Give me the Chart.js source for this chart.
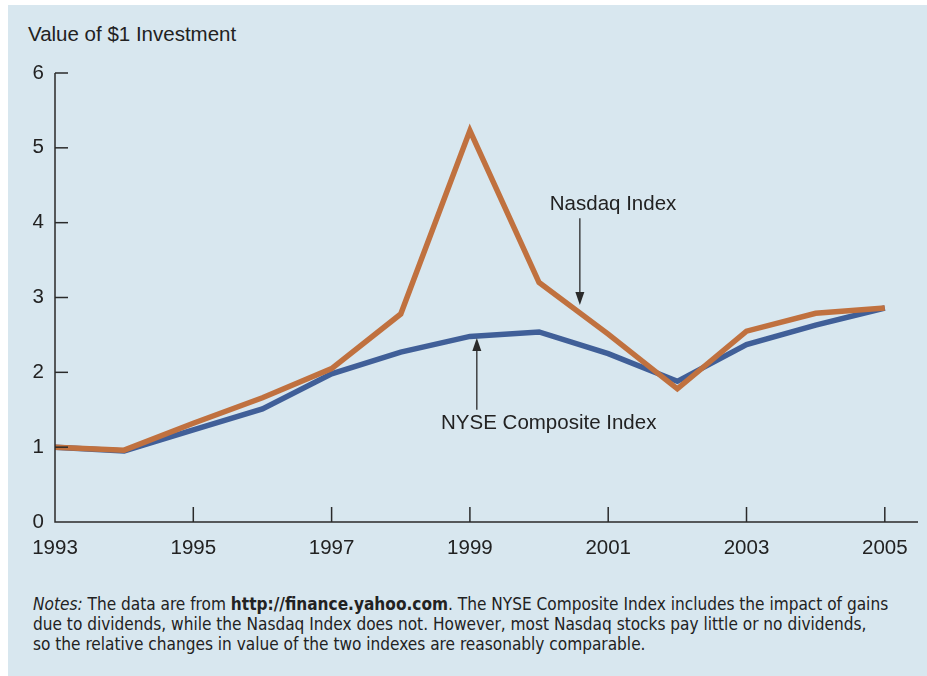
<!DOCTYPE html>
<html>
<head>
<meta charset="utf-8">
<script src="https://cdn.jsdelivr.net/npm/chart.js@4.4.1/dist/chart.umd.min.js"></script>
<style>
  html, body { margin: 0; padding: 0; background: #ffffff; }
  body { width: 927px; height: 676px; position: relative; overflow: hidden; font-family: 'Liberation Sans', Arial, sans-serif; }
  #panel { position: absolute; left: 8px; top: 5px; right: 0; bottom: 0; background: #d8e7ef; }
  #chart { position: absolute; left: 0; top: 0; }
  #yTitle { position: absolute; left: 28px; top: 22px; font-size: 20.5px; color: #222; }
  #notes { position: absolute; left: 33px; top: 594px; font-family: 'Liberation Sans Narrow', 'DejaVu Sans Condensed', sans-serif; font-size: 17.1px; line-height: 20px; color: #222; white-space: nowrap; }
  #notes b { font-weight: bold; }
</style>
</head>
<body>
<div id="panel"></div>
<div id="yTitle">Value of $1 Investment</div>
<canvas id="chart" width="927" height="560"></canvas>
<div id="notes"><i>Notes:</i> The data are from <b>http://finance.yahoo.com</b>. The NYSE Composite Index includes the impact of gains<br>due to dividends, while the Nasdaq Index does not. However, most Nasdaq stocks pay little or no dividends,<br>so the relative changes in value of the two indexes are reasonably comparable.</div>

<script>
// ================== DATA ==================
const years = [1993, 1994, 1995, 1996, 1997, 1998, 1999, 2000, 2001, 2002, 2003, 2004, 2005];
const nasdaq = [1.00, 0.96, 1.32, 1.66, 2.05, 2.78, 5.23, 3.20, 2.51, 1.78, 2.55, 2.79, 2.86];
const nyse = [1.00, 0.95, 1.23, 1.51, 1.98, 2.27, 2.48, 2.54, 2.25, 1.88, 2.37, 2.63, 2.86];
const xTickYears = [1993, 1995, 1997, 1999, 2001, 2003, 2005];
const yTicks = [0, 1, 2, 3, 4, 5, 6];

// annotation labels / arrows (data coordinates)
const nasdaqLabel = { text: 'Nasdaq Index', x: 2001.07, y: 4.25 };
const nasdaqArrow = { x: 2000.59, from: 4.06, to: 2.90 };
const nyseLabel = { text: 'NYSE Composite Index', x: 2000.14, y: 1.32 };
const nyseArrow = { x: 1999.10, from: 1.50, to: 2.46 };

const ORANGE = '#c0713f';
const BLUE = '#405f98';
const INK = '#2a2a2a';
const FONT = "'Liberation Sans', Arial, sans-serif";
const FONT_SIZE = 20.5;

function toPoints(vals) {
    return years.map((y, i) => ({ x: y, y: vals[i] }));
}

function drawArrow(ctx, x, y1, y2) {
    const dir = y2 > y1 ? 1 : -1;
    const head = 13;
    ctx.beginPath();
    ctx.moveTo(x, y1);
    ctx.lineTo(x, y2 - dir * head);
    ctx.stroke();
    ctx.beginPath();
    ctx.moveTo(x, y2);
    ctx.lineTo(x - 4.5, y2 - dir * head);
    ctx.lineTo(x + 4.5, y2 - dir * head);
    ctx.closePath();
    ctx.fill();
}

// axes, inward ticks and annotations
const decorPlugin = {
    id: 'decor',
    afterDraw(chart) {
        const { ctx, chartArea, scales: { x, y } } = chart;
        ctx.save();
        ctx.strokeStyle = INK;
        ctx.fillStyle = INK;
        ctx.lineWidth = 1.5;
        // axis lines
        ctx.beginPath();
        ctx.moveTo(chartArea.left, chartArea.top);
        ctx.lineTo(chartArea.left, chartArea.bottom);
        ctx.lineTo(chartArea.right, chartArea.bottom);
        ctx.stroke();
        // y ticks (inside)
        yTicks.forEach(v => {
            if (v === 0) return;
            const py = y.getPixelForValue(v);
            ctx.beginPath();
            ctx.moveTo(chartArea.left, py);
            ctx.lineTo(chartArea.left + 13, py);
            ctx.stroke();
        });
        // x ticks (inside)
        xTickYears.forEach(v => {
            if (v === years[0]) return;
            const px = x.getPixelForValue(v);
            ctx.beginPath();
            ctx.moveTo(px, chartArea.bottom);
            ctx.lineTo(px, chartArea.bottom - 15);
            ctx.stroke();
        });
        // arrows
        ctx.lineWidth = 1.3;
        drawArrow(ctx, x.getPixelForValue(nasdaqArrow.x), y.getPixelForValue(nasdaqArrow.from), y.getPixelForValue(nasdaqArrow.to));
        drawArrow(ctx, x.getPixelForValue(nyseArrow.x), y.getPixelForValue(nyseArrow.from), y.getPixelForValue(nyseArrow.to));
        // labels
        ctx.font = FONT_SIZE + 'px ' + FONT;
        ctx.textAlign = 'center';
        ctx.textBaseline = 'middle';
        ctx.fillStyle = '#222';
        ctx.fillText(nasdaqLabel.text, x.getPixelForValue(nasdaqLabel.x), y.getPixelForValue(nasdaqLabel.y));
        ctx.fillText(nyseLabel.text, x.getPixelForValue(nyseLabel.x), y.getPixelForValue(nyseLabel.y));
        ctx.restore();
    }
};

const chart = new Chart(document.getElementById('chart').getContext('2d'), {
    type: 'line',
    data: {
        datasets: [
            { label: 'Nasdaq Index', data: toPoints(nasdaq), borderColor: ORANGE, borderWidth: 5.5, pointRadius: 0, tension: 0, borderJoinStyle: 'miter', borderCapStyle: 'butt', fill: false },
            { label: 'NYSE Composite Index', data: toPoints(nyse), borderColor: BLUE, borderWidth: 5.5, pointRadius: 0, tension: 0, borderJoinStyle: 'miter', borderCapStyle: 'butt', fill: false }
        ]
    },
    options: {
        responsive: false,
        animation: false,
        layout: { padding: { top: 73, right: 9, left: 0, bottom: 0 } },
        plugins: { legend: { display: false }, tooltip: { enabled: false } },
        scales: {
            x: {
                type: 'linear',
                min: 1993,
                max: 2005.48,
                afterBuildTicks: s => { s.ticks = xTickYears.map(v => ({ value: v })); },
                afterFit: s => { s.height = 38; },
                grid: { display: false, drawTicks: false },
                border: { display: false },
                ticks: { padding: 14, color: '#222', font: { family: FONT, size: FONT_SIZE }, maxRotation: 0, autoSkip: false, callback: v => String(v) }
            },
            y: {
                min: 0,
                max: 6,
                afterBuildTicks: s => { s.ticks = yTicks.map(v => ({ value: v })); },
                afterFit: s => { s.width = 55; },
                grid: { display: false, drawTicks: false },
                border: { display: false },
                ticks: { padding: 11, color: '#222', font: { family: FONT, size: FONT_SIZE }, callback: v => String(v) }
            }
        }
    },
    plugins: [decorPlugin]
});
</script>
</body>
</html>
